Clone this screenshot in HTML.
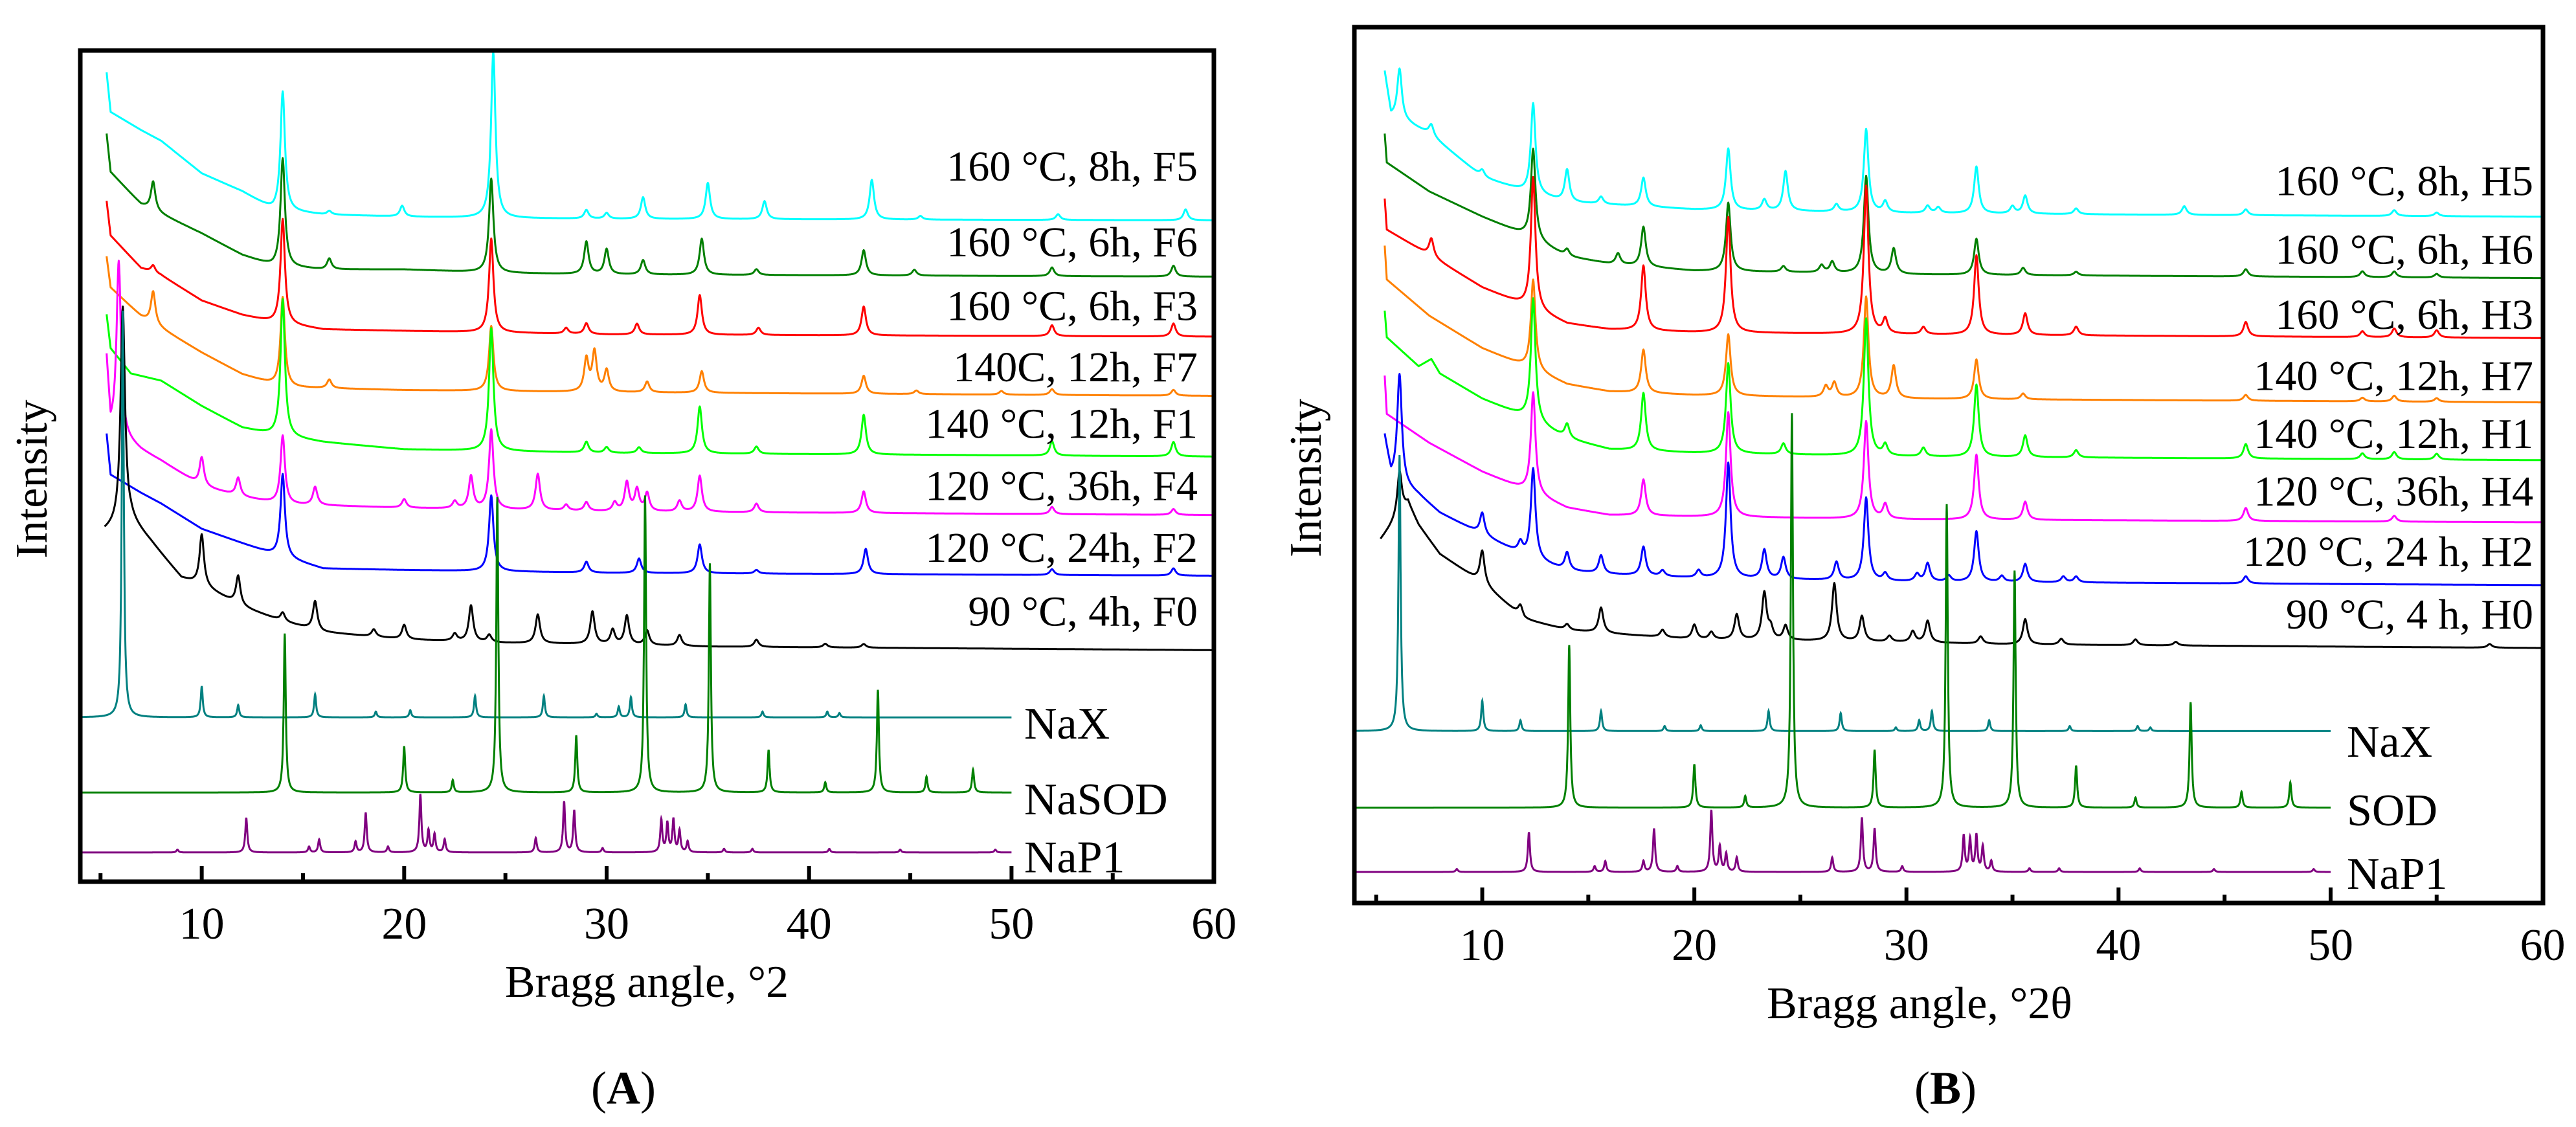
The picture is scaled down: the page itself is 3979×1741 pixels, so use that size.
<!DOCTYPE html>
<html><head><meta charset="utf-8"><style>
html,body{margin:0;padding:0;background:#fff;}
svg{display:block;}
text{font-family:"Liberation Serif",serif;fill:#000;}
</style></head><body>
<svg id="fig" width="3979" height="1741" viewBox="0 0 3979 1741"></svg>
<script>
// ---- data (angles in degrees; heights in relative units above each baseline) ----
const tickLabels = [10,20,30,40,50,60];
const minorTicks = [5,15,25,35,45,55];
// Panel A sample labels
const labelsA = ["160 °C, 8h, F5","160 °C, 6h, F6","160 °C, 6h, F3","140C, 12h, F7","140 °C, 12h, F1","120 °C, 36h, F4","120 °C, 24h, F2","90 °C, 4h, F0"];
const labelsB = ["160 °C, 8h, H5","160 °C, 6h, H6","160 °C, 6h, H3","140 °C, 12h, H7","140 °C, 12h, H1","120 °C, 36h, H4","120 °C, 24 h, H2","90 °C, 4 h, H0"];
const colors = ["#00ffff","#007f00","#ff0000","#ff8000","#00ff00","#ff00ff","#0000ff","#000000"];
const baseA = [305,383,466,548,632,713,797,900];
const baseB = [300,385,468,557,637,723,810,897];
const labelYA = [250,355,443,528,606,692,778,866];
const labelYB = [270,365,455,540,620,700,783,870];

const F5_bg=[[5.3,205],[5.5,150],[7,125],[8,110],[10,65],[12,40],[13.5,15],[16,8],[20,5],[25,3],[30,2],[60,0]];
const F5_pk=[[14.0,165],[16.3,5],[19.9,15],[24.4,230],[29,12],[30,8],[31.8,30],[35,50],[37.8,25],[43.1,55],[45.5,5],[52.3,8],[58.6,15]];
const F6_bg=[[5.3,198],[5.5,145],[7,100],[10,60],[12,30],[13.5,15],[16,10],[20,10],[25,5],[30,3],[60,0]];
const F6_pk=[[7.6,40],[14.0,150],[16.3,15],[24.3,130],[29,45],[30,35],[31.8,20],[34.7,50],[37.4,8],[42.7,35],[45.2,8],[52,12],[58,15]];
const F3_bg=[[5.3,188],[5.5,140],[7,95],[8,85],[10,50],[12,30],[13.5,20],[16,10],[20,8],[30,3],[60,0]];
const F3_pk=[[7.6,10],[14.0,145],[24.3,130],[28,8],[29,15],[31.5,15],[34.6,55],[37.5,10],[42.7,40],[52,15],[58,18]];
const F7_bg=[[5.3,193],[5.5,150],[7,110],[10,60],[12,30],[14,12],[20,8],[30,5],[60,0]];
const F7_pk=[[7.6,45],[14.0,125],[16.3,12],[24.3,90],[29,45],[29.4,55],[30,30],[32,15],[34.7,30],[42.7,25],[45.3,5],[49.5,5],[52,8],[58,8]];
const F1_bg=[[5.3,197],[5.5,150],[6.5,115],[8,105],[10,70],[12,40],[13.5,30],[16,20],[20,10],[30,5],[60,0]];
const F1_pk=[[14.0,190],[24.3,170],[29,15],[30,8],[31.6,8],[34.6,65],[37.4,10],[42.7,55],[52,20],[58,20]];
const F4_bg=[[5.3,213],[5.5,120],[7,90],[8,75],[10,40],[12,25],[14,15],[20,10],[30,5],[60,0]];
const F4_pk=[[5.9,240],[10,40],[11.8,25],[14.0,95],[15.6,25],[20,12],[22.5,10],[23.3,45],[24.3,110],[26.6,50],[28,8],[29,12],[30.4,12],[31.0,40],[31.5,30],[32,25],[33.6,15],[34.6,50],[37.4,12],[42.7,30],[52,10],[58,8]];
const F2_bg=[[5.3,197],[5.5,140],[7,115],[8,100],[10,65],[12,45],[13.5,30],[16,10],[20,8],[30,4],[60,0]];
const F2_pk=[[14.0,115],[24.3,105],[29,15],[31.6,20],[34.6,40],[37.4,5],[42.8,35],[52,8],[58,10]];
const F0_bg=[[5.2,165],[5.6,170],[6.5,180],[7.5,150],[9,100],[10,90],[12,60],[14,40],[16,25],[20,15],[25,10],[30,8],[35,5],[60,0]];
const F0_pk=[[6.1,300],[10,70],[11.8,40],[14,12],[15.6,40],[18.5,10],[20,20],[22.5,10],[23.3,50],[24.2,10],[26.6,40],[29.3,45],[30.3,20],[31,40],[32,20],[33.6,15],[37.4,10],[40.8,5],[42.7,5]];

const H5_bg=[[5.4,200],[5.7,140],[6.5,130],[7.5,115],[10,55],[12,35],[14,20],[17,15],[20,10],[30,5],[40,3],[60,0]];
const H5_pk=[[6.1,70],[7.6,15],[10,10],[12.4,125],[14,45],[15.6,10],[17.6,40],[21.6,85],[23.3,15],[24.3,55],[26.7,10],[28.1,115],[29,15],[31,10],[31.5,8],[33.3,65],[35,10],[35.6,25],[38,8],[43.1,12],[46,8],[53,8],[55,5]];
const H6_bg=[[5.4,200],[5.5,160],[7.5,120],[10,85],[12,60],[14,30],[16,20],[20,10],[25,8],[30,5],[60,0]];
const H6_pk=[[12.4,125],[14,10],[16.4,15],[17.6,55],[21.6,95],[24.2,8],[26,10],[26.5,15],[28.1,135],[29.4,35],[33.3,50],[35.5,10],[38,5],[46,10],[51.5,8],[53,8],[55,5]];
const H3_bg=[[5.4,193],[5.5,150],[7.5,115],[10,70],[12,45],[14,20],[16,12],[20,8],[30,5],[60,0]];
const H3_pk=[[7.6,25],[12.4,183],[17.6,90],[21.6,160],[28.1,205],[29,20],[30.8,10],[33.3,110],[35.6,30],[38,12],[46,20],[51.5,8],[53,12],[55,10]];
const H7_bg=[[5.4,217],[5.5,170],[7.5,120],[10,75],[12,50],[14,25],[16,15],[20,10],[30,5],[60,0]];
const H7_pk=[[12.4,125],[17.6,60],[21.6,85],[26.2,15],[26.6,20],[28.1,140],[29.4,45],[33.3,55],[35.5,8],[46,8],[51.5,5],[53,8],[55,5]];
const H1_bg=[[5.4,207],[5.5,170],[7,130],[7.6,140],[8,120],[10,85],[12,60],[14,30],[16,15],[20,10],[30,5],[60,0]];
const H1_pk=[[12.4,170],[14,20],[17.6,80],[21.6,125],[24.2,15],[28.1,190],[29,15],[30.8,12],[33.3,100],[35.6,30],[38,10],[46,20],[51.5,8],[53,10],[55,8]];
const H4_bg=[[5.4,203],[5.5,150],[7.5,110],[10,70],[12,45],[14,20],[16,10],[20,8],[30,4],[60,0]];
const H4_pk=[[12.4,140],[17.6,50],[21.6,145],[28.1,135],[29,20],[33.3,90],[35.6,25],[46,18],[53,8]];
const H2_bg=[[5.4,205],[5.7,150],[7,125],[8,100],[10,70],[12,40],[14,20],[16,15],[20,10],[30,5],[60,0]];
const H2_pk=[[6.1,150],[10,30],[11.8,15],[12.4,125],[14,25],[15.6,25],[17.6,40],[18.5,8],[20.2,10],[21.6,160],[23.3,40],[24.2,30],[26.7,25],[28.1,115],[29,10],[30.5,10],[31,25],[32,8],[33.3,70],[34.5,8],[35.6,25],[37.4,8],[38,8],[46,10]];
const H0_bg=[[5.2,150],[5.6,165],[6.5,200],[7,170],[8,130],[10,90],[12,40],[14,25],[16,20],[20,12],[25,10],[30,8],[35,5],[60,0]];
const H0_pk=[[6.1,60],[10,45],[11.8,15],[14,8],[15.6,35],[18.5,10],[20,20],[20.8,10],[22,35],[23.3,65],[23.6,15],[24.3,20],[26.6,80],[27.9,35],[29.2,8],[30.3,15],[31,30],[33.5,10],[35.6,35],[37.3,8],[40.8,8],[42.7,5],[57.5,5]];

// reference patterns
const NaXA_pk=[[6.1,563],[10,43],[11.8,17],[15.6,32],[18.6,8],[20.3,10],[23.5,30],[26.9,30],[29.5,5],[30.6,15],[31.2,28],[33.9,18],[37.7,8],[40.9,8],[41.5,6]];
const SODA_pk=[[14.1,220],[20,64],[22.4,17],[24.6,409],[28.5,79],[31.9,411],[35.1,317],[38,59],[40.8,14],[43.4,142],[45.8,22],[48.1,32]];
const NaP1A_pk=[[8.8,4],[12.2,48],[15.3,8],[15.8,18],[17.6,15],[18.1,55],[19.2,8],[20.8,80],[21.2,30],[21.5,25],[22,18],[26.5,20],[27.9,70],[28.4,58],[29.8,6],[32.7,45],[33,40],[33.3,45],[33.6,30],[34,15],[35.8,5],[37.2,5],[41,5],[44.5,4],[49.2,4]];
const NaXB_pk=[[6.1,382],[10,42],[11.8,15],[15.6,28],[18.6,7],[20.3,8],[23.5,28],[26.9,25],[29.5,5],[30.6,15],[31.2,28],[33.9,15],[37.7,7],[40.9,7],[41.5,5]];
const SODB_pk=[[14.1,225],[20,60],[22.4,16],[24.6,546],[28.5,80],[31.9,420],[35.1,328],[38,58],[40.8,14],[43.4,146],[45.8,22],[48.1,35]];
const NaP1B_pk=[[8.8,4],[12.2,55],[15.3,8],[15.8,15],[17.6,15],[18.1,60],[19.2,8],[20.8,85],[21.2,35],[21.5,25],[22,20],[26.5,20],[27.9,75],[28.5,60],[29.8,8],[32.7,50],[33,45],[33.3,50],[33.6,35],[34,15],[35.8,5],[37.2,5],[41,5],[44.5,4],[49.2,4]];

// ---- rendering ----
const NS="http://www.w3.org/2000/svg";
const svg=document.getElementById('fig');
const YS=1.116;
function mk(tag,attrs,parent){const e=document.createElementNS(NS,tag);for(const k in attrs)e.setAttribute(k,attrs[k]);(parent||svg).appendChild(e);return e;}
function interp(bg,d){if(d<=bg[0][0])return bg[0][1];for(let i=1;i<bg.length;i++){if(d<=bg[i][0]){const a=bg[i-1],b=bg[i];return a[1]+(b[1]-a[1])*(d-a[0])/(b[0]-a[0]);}}return 0;}
function profile(bg,pk,d,w){let h=bg?interp(bg,d):0;for(const p of pk){const t=(d-p[0])/w;h+=p[1]/(1+t*t);}return h;}

const panels=[
 {id:'a',left:124,right:1875,top:78,bottom:1362,x0:124,ppd:31.27,zx:1.2756,ox:0,
  samples:[[F5_bg,F5_pk],[F6_bg,F6_pk],[F3_bg,F3_pk],[F7_bg,F7_pk],[F1_bg,F1_pk],[F4_bg,F4_pk],[F2_bg,F2_pk],[F0_bg,F0_pk]],
  base:baseA,labels:labelsA,labelY:labelYA,labelX:1850,
  refs:[[NaXA_pk,993,"#008080","NaX",1000],[SODA_pk,1097,"#008000","NaSOD",1105],[NaP1A_pk,1180,"#800080","NaP1",1185]],refX:1582,
  xtitle:"Bragg angle, °2",xtitleX:999,tag:"A",tagX:963},
 {id:'b',left:2092,right:3928,top:42,bottom:1395,x0:2093,ppd:32.76,zx:1.2756,ox:1990,
  samples:[[H5_bg,H5_pk],[H6_bg,H6_pk],[H3_bg,H3_pk],[H7_bg,H7_pk],[H1_bg,H1_pk],[H4_bg,H4_pk],[H2_bg,H2_pk],[H0_bg,H0_pk]],
  base:baseB,labels:labelsB,labelY:labelYB,labelX:3913,
  refs:[[NaXB_pk,1012,"#008080","NaX",1025],[SODB_pk,1118,"#008000","SOD",1120],[NaP1B_pk,1207,"#800080","NaP1",1208]],refX:3625,
  xtitle:"Bragg angle, °2θ",xtitleX:2965,tag:"B",tagX:3005}
];

panels.forEach(P=>{
  const X=d=>P.x0+(d-4)*P.ppd;
  const g=mk('g',{});
  
  
  // series
  P.samples.forEach((s,i)=>{
    const start=s[0][0][0];let pts=[];
    for(let d=start;d<=60.001;d+=0.02){const h=profile(s[0],s[1],d,0.13);pts.push(X(d).toFixed(1)+','+((P.base[i]-h)*YS).toFixed(1));}
    const pl=mk('polyline',{points:pts.join(' '),fill:'none',stroke:colors[i],'stroke-width':3,'stroke-linejoin':'round'},g);
    
    
    const t=mk('text',{x:P.labelX,y:P.labelY[i]*YS,'font-size':66,'text-anchor':'end'},g);
    t.textContent=P.labels[i];
    
    
  });
  P.refs.forEach(r=>{
    let pts=[];
    for(let d=4;d<=50.001;d+=0.01){const h=profile(null,r[0],d,0.06);pts.push(X(d).toFixed(1)+','+((r[1]-h)*YS).toFixed(1));}
    const pl=mk('polyline',{points:pts.join(' '),fill:'none',stroke:r[2],'stroke-width':3},g);
    
    
    const t=mk('text',{x:P.refX,y:r[4]*YS+25,'font-size':70},g);
    t.textContent=r[3];
    
    
  });
  // frame
  const fr=mk('rect',{x:P.left,y:P.top,width:P.right-P.left,height:P.bottom-P.top,fill:'none',stroke:'#000','stroke-width':7},g);
  
  
  tickLabels.forEach(v=>{
    const tk=mk('line',{x1:X(v),x2:X(v),y1:P.bottom,y2:P.bottom-24,stroke:'#000','stroke-width':6},g);
    
    
    const t=mk('text',{x:X(v),y:P.bottom+88,'font-size':70,'text-anchor':'middle'},g);
    t.textContent=v;
    
    
  });
  minorTicks.forEach(v=>{
    const tk=mk('line',{x1:X(v),x2:X(v),y1:P.bottom,y2:P.bottom-13,stroke:'#000','stroke-width':6},g);
    
    
  });
  const xt=mk('text',{x:P.xtitleX,y:P.bottom+178,'font-size':70,'text-anchor':'middle'},g);
  xt.textContent=P.xtitle;
  
  
  const yt=mk('text',{x:0,y:0,'font-size':70,'text-anchor':'middle',transform:'translate('+(P.left-52)+','+((P.top+P.bottom)/2+20)+') rotate(-90)'},g);
  yt.textContent='Intensity';
  
  
  const tg=mk('text',{x:P.tagX,y:1705,'font-size':72,'text-anchor':'middle'},g);
  tg.innerHTML='(<tspan font-weight="bold">'+P.tag+'</tspan>)';
  
  
});
</script>
</body></html>
